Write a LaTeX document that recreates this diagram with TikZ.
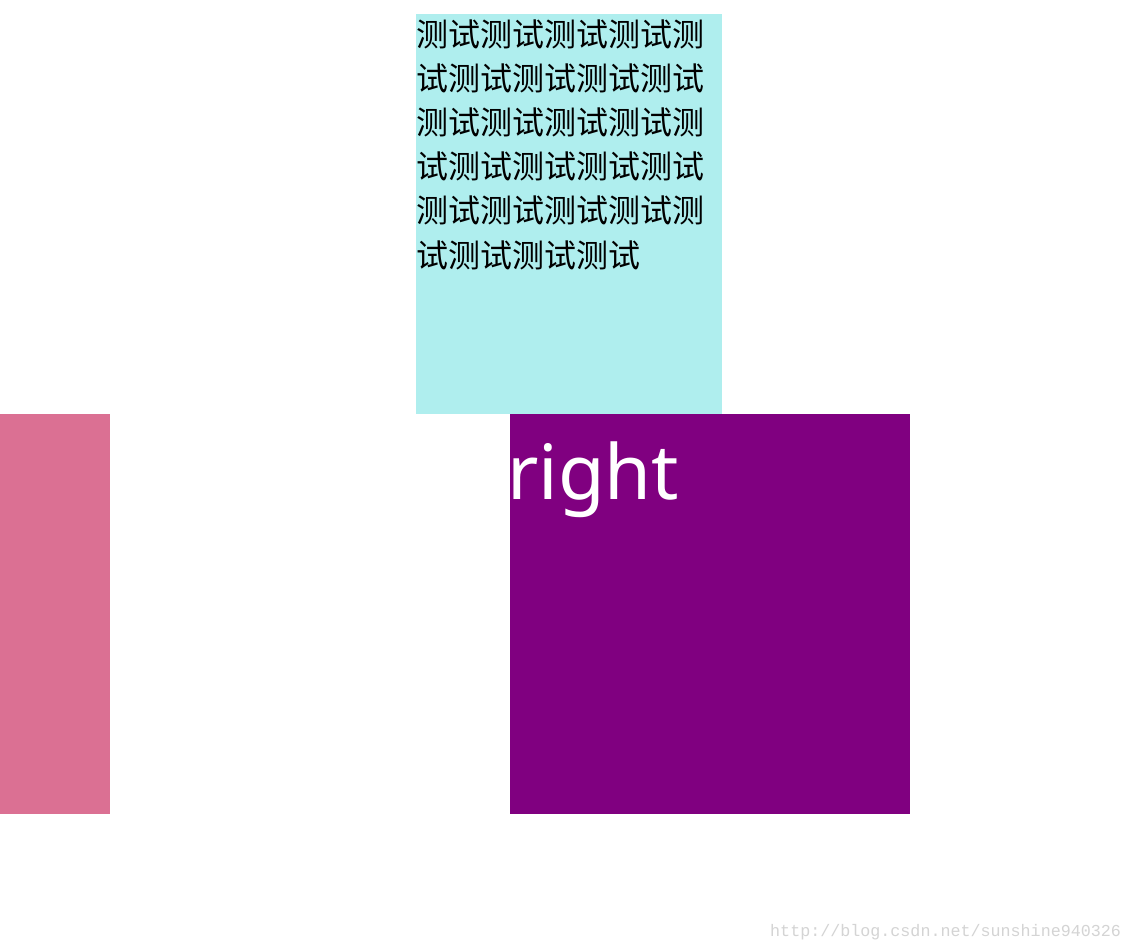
\documentclass[tikz,border=0pt]{standalone}
\usepackage{fontspec}
\setmainfont{Noto Sans}
\newfontfamily\cjkfont{Noto Sans CJK SC}
\newfontfamily\wmfont{Liberation Mono}
\definecolor{paleturq}{RGB}{175,238,238}
\definecolor{palevr}{RGB}{219,112,147}
\definecolor{purp}{RGB}{128,0,128}
\definecolor{wmgray}{RGB}{212,212,212}
\tikzset{
  block/.style={inner sep=0pt, outer sep=0pt},
  cjkline/.style={anchor=west, inner sep=0pt, font=\cjkfont\fontsize{32}{44}\selectfont, text=black},
}
\begin{document}
\begin{tikzpicture}[x=1pt,y=1pt]
\useasboundingbox (0,0) rectangle (1132,952);
\fill[white] (0,0) rectangle (1132,952);
% cyan box
\fill[paleturq] (416,952-414) rectangle (722,952-14);
% pink box
\fill[palevr] (0,952-814) rectangle (110,952-414);
% purple box
\fill[purp] (510,952-814) rectangle (910,952-414);
% text lines
\node[cjkline] (l1) at (416,952-34) {测试测试测试测试测};
\node[cjkline] (l2) at (416,952-78.2) {试测试测试测试测试};
\node[cjkline] (l3) at (416,952-122.4) {测试测试测试测试测};
\node[cjkline] (l4) at (416,952-166.6) {试测试测试测试测试};
\node[cjkline] (l5) at (416,952-210.8) {测试测试测试测试测};
\node[cjkline] (l6) at (416,952-255) {试测试测试测试};
% right label
\node[anchor=base west, inner sep=0pt, font=\fontsize{76}{80}\selectfont, text=white] (rt) at (507,952-500) {right};
% watermark
\node[anchor=base west, inner sep=0pt, font=\wmfont\fontsize{16.7}{18}\selectfont, text=wmgray] (wm) at (770,952-937) {http://blog.csdn.net/sunshine940326};
\end{tikzpicture}
\end{document}
